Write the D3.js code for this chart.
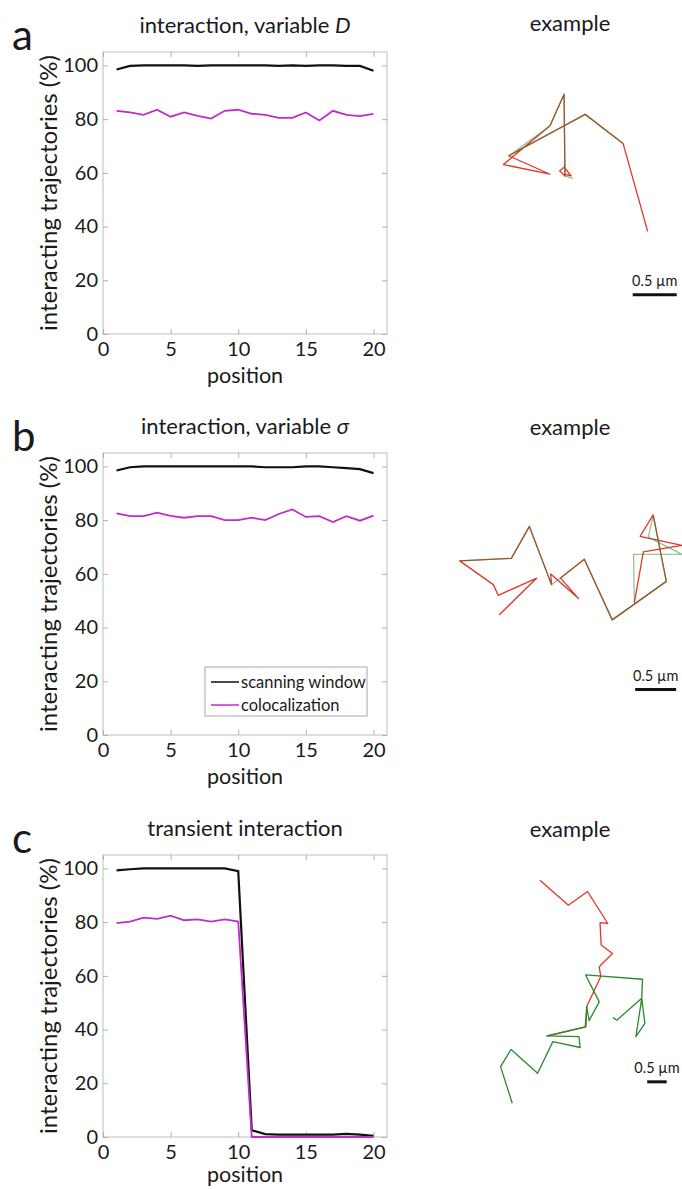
<!DOCTYPE html>
<html>
<head>
<meta charset="utf-8">
<script src="https://cdnjs.cloudflare.com/ajax/libs/d3/7.8.5/d3.min.js"></script>
<style>
body { margin: 0; background: #fff; }
svg text { font-family: Lato, "Open Sans", sans-serif; fill: #1a1a1a; }
.tick line { stroke: #b0b0b0; }
</style>
</head>
<body>
<div class="chart"></div>
<script>
// Data

var positions = [1, 2, 3, 4, 5, 6, 7, 8, 9, 10, 11, 12, 13, 14, 15, 16, 17, 18, 19, 20];

var scanA = [98.5, 99.8, 100, 100, 100, 100, 99.8, 100, 100, 100, 100, 100, 99.8, 100, 99.8, 100, 100, 99.8, 99.8, 98];
var colocA = [83.1, 82.5, 81.6, 83.5, 80.9, 82.5, 81.2, 80.2, 83.1, 83.5, 82, 81.6, 80.5, 80.5, 82.5, 79.5, 83.1, 81.6, 81.1, 82];

var scanB = [98.5, 99.7, 100, 100, 100, 100, 100, 100, 100, 100, 100, 99.7, 99.7, 99.7, 100, 100, 99.7, 99.4, 99, 97.5];
var colocB = [82.5, 81.5, 81.5, 82.8, 81.6, 80.9, 81.5, 81.5, 80, 80, 80.9, 80, 82.3, 84, 81.2, 81.5, 79.3, 81.5, 79.8, 81.7];

var scanC = [99.3, 99.7, 100, 100, 100, 100, 100, 100, 100, 99, 2.5, 1.1, 0.9, 0.9, 0.9, 0.9, 0.9, 1.2, 0.9, 0.4];
var colocC = [79.6, 80.2, 81.7, 81.2, 82.4, 80.7, 81, 80.2, 81, 80.2, 0, 0, 0, 0, 0, 0, 0, 0, 0, 0];

var xTicks = [0, 5, 10, 15, 20];
var yTicks = [0, 20, 40, 60, 80, 100];
var seriesNames = ["scanning window", "colocalization"];
var panelLabels = ["a", "b", "c"];

// example trajectories, in µm (x right, y down)
var redA = [[2.36, 2.63], [2.08, 1.63], [1.65, 1.30], [0.78, 1.77], [1.25, 1.98], [0.72, 1.87],
    [1.25, 1.43], [1.41, 1.07], [1.42, 2.00], [1.36, 1.94], [1.41, 1.90], [1.49, 2.00], [1.41, 1.98]];
var greenA = [[2.08, 1.63], [1.65, 1.30], [0.80, 1.76], [1.25, 1.43], [1.41, 1.07], [1.42, 2.00], [1.51, 2.03]];

var redB = [[0.72, 2.50], [1.18, 2.05], [0.71, 2.26], [0.65, 2.13], [0.24, 1.84], [0.87, 1.81],
    [1.09, 1.42], [1.36, 2.13], [1.35, 2.00], [1.69, 2.30], [1.47, 2.05], [1.76, 1.82], [2.10, 2.56],
    [2.76, 2.09], [2.60, 1.28], [2.44, 1.54], [2.95, 1.65], [2.48, 1.73], [2.37, 2.35]];
var greenB = [[0.24, 1.84], [0.87, 1.81], [1.09, 1.42], [1.36, 2.13], [1.47, 2.05],
    [1.76, 1.82], [2.10, 2.56], [2.76, 2.09], [2.60, 1.29], [2.54, 1.55], [2.95, 1.76], [2.36, 1.76], [2.37, 2.35]];

var redC = [[2.05, 1.80], [2.78, 2.44], [3.27, 2.09], [3.79, 2.91], [3.59, 2.89], [3.62, 3.46],
    [3.91, 3.68], [3.57, 4.02], [3.61, 4.27], [3.25, 5.04], [3.23, 5.56], [2.24, 5.80]];
var greenC = [[1.34, 7.52], [1.04, 6.58], [1.31, 6.14], [1.99, 6.75], [2.38, 5.94], [3.08, 6.09],
    [3.05, 5.81], [2.22, 5.79], [3.21, 5.56], [3.25, 5.04], [3.31, 5.40], [3.57, 4.92], [3.22, 4.23],
    [4.68, 4.34], [4.66, 4.83], [4.51, 5.81], [4.74, 5.47], [4.66, 4.83], [4.02, 5.39], [3.92, 5.32]];

// scale bar start point (µm) and length
var barLength = 0.5;
var barStart = [[2.19, 3.35], [2.38, 3.41], [4.80, 6.97]];

// Layout

var svgWidth = 682;
var svgHeight = 1189;
var plotLeft = 103;
var plotW = 284;
var plotH = 282;
var panelTop = [52, 453, 855];

var svg = d3.select(".chart")
    .append("svg")
    .attr("width", svgWidth)
    .attr("height", svgHeight);

var panels = [
    { scan: scanA, coloc: colocA, title: ["interaction, variable ", "D"], red: redA, green: greenA,
      exX: [440, 682], exY: [0, 340], umW: 2.75, umH: 3.864, exTitleY: 31, greenOp: 0.5 },
    { scan: scanB, coloc: colocB, title: ["interaction, variable ", "\u03c3"], red: redB, green: greenB,
      exX: [440, 682], exY: [410, 700], umW: 2.951, umH: 3.537, exTitleY: 435, greenOp: 0.5 },
    { scan: scanC, coloc: colocC, title: ["transient interaction", ""], red: redC, green: greenC,
      exX: [460, 682], exY: [810, 1120], umW: 5.692, umH: 7.949, exTitleY: 837, greenOp: 1 }
];

var xScale = d3.scaleLinear().domain([0, 21]).range([0, plotW]);
var yScale = d3.scaleLinear().domain([0, 105]).range([plotH, 0]);

panels.forEach(function(p, i) {

    var chart = svg.append("g")
        .attr("transform", "translate(" + plotLeft + "," + panelTop[i] + ")");

    chart.append("rect")
        .attr("width", plotW)
        .attr("height", plotH)
        .attr("fill", "none")
        .attr("stroke", "#bdbdbd");

    // MATLAB-style inward ticks on all four sides
    var bottom = chart.append("g")
        .attr("transform", "translate(0," + plotH + ")")
        .call(d3.axisBottom(xScale).tickValues(xTicks).tickSize(-5).tickPadding(8));
    var top = chart.append("g")
        .call(d3.axisTop(xScale).tickValues(xTicks).tickSize(-5).tickFormat(""));
    var left = chart.append("g")
        .call(d3.axisLeft(yScale).tickValues(yTicks).tickSize(-5).tickPadding(5));
    var right = chart.append("g")
        .attr("transform", "translate(" + plotW + ",0)")
        .call(d3.axisRight(yScale).tickValues(yTicks).tickSize(-5).tickFormat(""));

    [bottom, top, left, right].forEach(function(ax) {
        ax.select(".domain").remove();
        ax.selectAll("text").attr("font-size", "20px").attr("fill", "#1a1a1a");
    });

    var line = d3.line()
        .x(function(d, k) { return xScale(positions[k]); })
        .y(function(d) { return yScale(d); });

    chart.append("path")
        .datum(p.scan)
        .attr("d", line)
        .attr("fill", "none")
        .attr("stroke", "#111")
        .attr("stroke-width", 2.2);

    chart.append("path")
        .datum(p.coloc)
        .attr("d", line)
        .attr("fill", "none")
        .attr("stroke", "#c02cc8")
        .attr("stroke-width", 1.8);

    // titles and labels
    var t = chart.append("text")
        .attr("x", plotW / 2)
        .attr("y", -19)
        .attr("text-anchor", "middle")
        .attr("font-size", "22px");
    t.append("tspan").text(p.title[0]);
    t.append("tspan").attr("font-style", "italic").text(p.title[1]);

    chart.append("text")
        .attr("x", -91)
        .attr("y", -2)
        .attr("font-size", "42px")
        .text(panelLabels[i]);

    chart.append("text")
        .attr("transform", "rotate(-90)")
        .attr("x", -plotH / 2)
        .attr("y", -46)
        .attr("text-anchor", "middle")
        .attr("font-size", "24px")
        .text("interacting trajectories (%)");

    // keep the last label inside the page
    chart.append("text")
        .attr("x", plotW / 2)
        .attr("y", Math.min(plotH + 49, svgHeight - panelTop[i] - 7))
        .attr("text-anchor", "middle")
        .attr("font-size", "21.5px")
        .text("position");

    // legend only in panel b
    if (i == 1) {
        var legend = chart.append("g").attr("transform", "translate(102,214)");
        legend.append("rect")
            .attr("width", 162)
            .attr("height", 49)
            .attr("fill", "#fff")
            .attr("stroke", "#a8a8a8");
        var colors = ["#111", "#c02cc8"];
        seriesNames.forEach(function(name, k) {
            legend.append("line")
                .attr("x1", 6).attr("x2", 34)
                .attr("y1", 15 + k * 23).attr("y2", 15 + k * 23)
                .attr("stroke", colors[k])
                .attr("stroke-width", 1.5);
            legend.append("text")
                .attr("x", 36)
                .attr("y", 21 + k * 23)
                .attr("font-size", "16.5px")
                .text(name);
        });
    }

    // example trajectory
    var ex = d3.scaleLinear().domain([0, p.umW]).range(p.exX);
    var ey = d3.scaleLinear().domain([0, p.umH]).range(p.exY);
    var traj = d3.line()
        .x(function(d) { return ex(d[0]); })
        .y(function(d) { return ey(d[1]); });

    svg.append("text")
        .attr("x", 570)
        .attr("y", p.exTitleY)
        .attr("text-anchor", "middle")
        .attr("font-size", "22px")
        .text("example");

    svg.append("path")
        .datum(p.red)
        .attr("d", traj)
        .attr("fill", "none")
        .attr("stroke", "#e0362c")
        .attr("stroke-width", 1.3)
        .attr("stroke-linejoin", "round");

    svg.append("path")
        .datum(p.green)
        .attr("d", traj)
        .attr("fill", "none")
        .attr("stroke", "#2b8a2b")
        .attr("stroke-opacity", p.greenOp)
        .attr("stroke-width", 1.3)
        .attr("stroke-linejoin", "round");

    var b0 = barStart[i];
    svg.append("line")
        .attr("x1", ex(b0[0]))
        .attr("x2", ex(b0[0] + barLength))
        .attr("y1", ey(b0[1]))
        .attr("y2", ey(b0[1]))
        .attr("stroke", "#111")
        .attr("stroke-width", 3);

    svg.append("text")
        .attr("x", (ex(b0[0]) + ex(b0[0] + barLength)) / 2)
        .attr("y", ey(b0[1]) - 9)
        .attr("text-anchor", "middle")
        .attr("font-size", "14.5px")
        .text("0.5 \u00b5m");
});
</script>
</body>
</html>
